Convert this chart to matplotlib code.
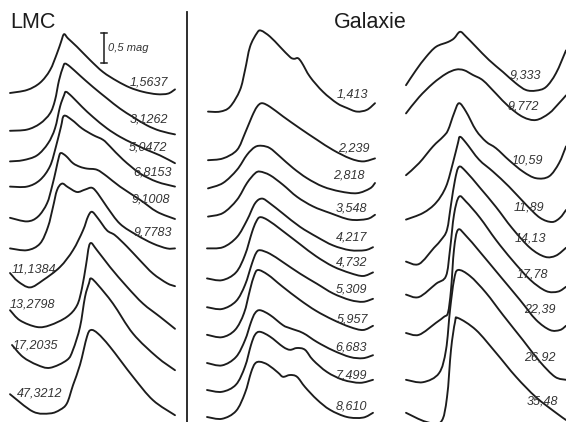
import matplotlib.pyplot as plt
from matplotlib import font_manager
from matplotlib.lines import Line2D
from matplotlib.path import Path
from matplotlib.patches import PathPatch

# light curves of Cepheids: phase and magnitude below maximum (0.5 mag bar)

lmc_periods = ['1,5637', '3,1262', '5,0472', '6,8153', '9,1008',
               '9,7783', '11,1384', '13,2798', '17,2035', '47,3212']
lmc_phase = [
    [0.00, 0.17, 0.30, 0.40, 0.47, 0.51, 0.54, 0.58, 0.67, 0.80, 0.93, 1.07, 1.20, 1.33, 1.47, 1.58, 1.65],
    [0.00, 0.17, 0.30, 0.40, 0.45, 0.49, 0.53, 0.55, 0.60, 0.70, 0.83, 0.97, 1.10, 1.23, 1.37, 1.50, 1.65],
    [0.00, 0.13, 0.27, 0.38, 0.45, 0.50, 0.54, 0.56, 0.62, 0.72, 0.83, 0.97, 1.10, 1.23, 1.37, 1.50, 1.65],
    [0.00, 0.17, 0.30, 0.40, 0.46, 0.51, 0.54, 0.62, 0.72, 0.83, 0.93, 1.00, 1.13, 1.30, 1.47, 1.65],
    [0.00, 0.17, 0.28, 0.37, 0.42, 0.46, 0.49, 0.51, 0.56, 0.63, 0.70, 0.77, 0.87, 0.97, 1.10, 1.30, 1.47, 1.65],
    [0.00, 0.17, 0.30, 0.38, 0.43, 0.47, 0.52, 0.58, 0.67, 0.75, 0.82, 0.88, 0.97, 1.10, 1.27, 1.43, 1.57, 1.65],
    [0.00, 0.08, 0.20, 0.33, 0.50, 0.63, 0.73, 0.78, 0.82, 0.88, 0.97, 1.05, 1.17, 1.30, 1.43, 1.57, 1.65],
    [0.00, 0.10, 0.27, 0.40, 0.57, 0.67, 0.72, 0.76, 0.80, 0.87, 1.00, 1.17, 1.33, 1.50, 1.65],
    [0.02, 0.13, 0.27, 0.40, 0.57, 0.63, 0.70, 0.75, 0.79, 0.81, 0.88, 1.03, 1.23, 1.47, 1.65],
    [0.00, 0.23, 0.40, 0.50, 0.57, 0.63, 0.70, 0.77, 0.81, 0.88, 1.00, 1.23, 1.43, 1.65],
]
lmc_dmag = [
    [0.98, 0.93, 0.81, 0.60, 0.32, 0.13, 0.00, 0.07, 0.21, 0.43, 0.63, 0.78, 0.89, 0.96, 1.00, 0.99, 0.92],
    [1.12, 1.10, 1.00, 0.83, 0.61, 0.28, 0.06, 0.00, 0.05, 0.20, 0.39, 0.58, 0.75, 0.89, 1.03, 1.12, 1.18],
    [1.16, 1.14, 1.06, 0.86, 0.61, 0.25, 0.06, 0.00, 0.08, 0.25, 0.42, 0.61, 0.75, 0.86, 0.97, 1.06, 1.19],
    [1.18, 1.18, 1.07, 0.84, 0.51, 0.18, 0.00, 0.07, 0.21, 0.32, 0.40, 0.51, 0.73, 0.96, 1.10, 1.18],
    [1.08, 1.14, 1.06, 0.84, 0.56, 0.28, 0.06, 0.00, 0.05, 0.17, 0.23, 0.26, 0.28, 0.39, 0.56, 0.78, 0.98, 1.10],
    [1.08, 1.11, 1.00, 0.72, 0.39, 0.11, 0.00, 0.06, 0.14, 0.10, 0.07, 0.17, 0.39, 0.67, 0.86, 1.00, 1.08, 1.08],
    [1.02, 1.16, 1.26, 1.14, 0.92, 0.64, 0.31, 0.08, 0.00, 0.11, 0.31, 0.39, 0.58, 0.81, 1.03, 1.19, 1.24],
    [1.11, 1.28, 1.39, 1.36, 1.22, 1.03, 0.74, 0.36, 0.00, 0.11, 0.39, 0.72, 1.00, 1.22, 1.42],
    [1.11, 1.31, 1.44, 1.49, 1.36, 1.19, 0.81, 0.31, 0.08, 0.00, 0.11, 0.42, 0.92, 1.31, 1.53],
    [1.07, 1.36, 1.39, 1.33, 1.22, 0.92, 0.58, 0.11, 0.00, 0.06, 0.28, 0.78, 1.17, 1.42],
]

gal_periods = ['1,413', '2,239', '2,818', '3,548', '4,217', '4,732',
               '5,309', '5,957', '6,683', '7,499', '8,610']
gal_phase = [
    [0.01, 0.13, 0.23, 0.33, 0.38, 0.43, 0.50, 0.54, 0.63, 0.73, 0.83, 0.87, 0.91, 0.95, 1.03, 1.16, 1.30, 1.40, 1.50, 1.60, 1.68],
    [0.01, 0.16, 0.30, 0.38, 0.45, 0.50, 0.55, 0.63, 0.76, 0.93, 1.10, 1.26, 1.43, 1.56, 1.68],
    [0.01, 0.16, 0.30, 0.40, 0.48, 0.55, 0.63, 0.73, 0.86, 1.00, 1.16, 1.33, 1.50, 1.63, 1.68],
    [0.01, 0.16, 0.30, 0.40, 0.48, 0.53, 0.63, 0.76, 0.90, 1.06, 1.23, 1.43, 1.60, 1.68],
    [0.00, 0.16, 0.30, 0.40, 0.48, 0.55, 0.63, 0.76, 0.93, 1.10, 1.26, 1.43, 1.58, 1.66],
    [0.00, 0.15, 0.29, 0.38, 0.45, 0.49, 0.53, 0.61, 0.75, 0.93, 1.09, 1.26, 1.43, 1.56, 1.66],
    [0.00, 0.15, 0.29, 0.38, 0.45, 0.49, 0.53, 0.63, 0.76, 0.93, 1.10, 1.26, 1.43, 1.56, 1.66],
    [0.00, 0.15, 0.28, 0.37, 0.43, 0.47, 0.51, 0.61, 0.75, 0.93, 1.09, 1.26, 1.43, 1.56, 1.66],
    [0.00, 0.15, 0.29, 0.38, 0.44, 0.48, 0.53, 0.63, 0.76, 0.83, 0.96, 1.10, 1.26, 1.43, 1.56, 1.66],
    [0.00, 0.15, 0.29, 0.38, 0.44, 0.48, 0.53, 0.63, 0.76, 0.83, 0.90, 0.98, 1.06, 1.20, 1.36, 1.53, 1.66],
    [0.00, 0.15, 0.29, 0.38, 0.44, 0.48, 0.53, 0.61, 0.71, 0.76, 0.83, 0.90, 0.98, 1.10, 1.23, 1.40, 1.56, 1.66],
]
gal_dmag = [
    [1.35, 1.35, 1.27, 0.99, 0.66, 0.27, 0.04, 0.00, 0.10, 0.27, 0.44, 0.47, 0.46, 0.54, 0.77, 1.02, 1.21, 1.29, 1.35, 1.32, 1.21],
    [0.95, 0.92, 0.78, 0.50, 0.22, 0.06, 0.00, 0.06, 0.22, 0.42, 0.61, 0.78, 0.92, 0.97, 0.92],
    [0.71, 0.62, 0.40, 0.15, 0.02, 0.00, 0.04, 0.18, 0.37, 0.54, 0.68, 0.76, 0.79, 0.71, 0.62],
    [0.75, 0.69, 0.47, 0.19, 0.03, 0.00, 0.06, 0.22, 0.42, 0.58, 0.69, 0.80, 0.79, 0.72],
    [0.83, 0.81, 0.64, 0.36, 0.08, 0.00, 0.08, 0.25, 0.47, 0.64, 0.78, 0.86, 0.86, 0.81],
    [1.02, 1.05, 0.92, 0.63, 0.25, 0.08, 0.00, 0.05, 0.22, 0.45, 0.65, 0.82, 0.93, 0.98, 0.92],
    [0.95, 0.98, 0.85, 0.58, 0.22, 0.05, 0.00, 0.06, 0.20, 0.39, 0.56, 0.72, 0.83, 0.86, 0.81],
    [1.08, 1.12, 1.00, 0.72, 0.33, 0.10, 0.00, 0.08, 0.27, 0.50, 0.68, 0.83, 0.95, 1.00, 0.93],
    [0.88, 0.92, 0.78, 0.50, 0.20, 0.05, 0.00, 0.08, 0.25, 0.30, 0.38, 0.53, 0.67, 0.78, 0.80, 0.75],
    [0.97, 1.00, 0.88, 0.58, 0.22, 0.05, 0.00, 0.08, 0.25, 0.30, 0.27, 0.30, 0.47, 0.67, 0.80, 0.85, 0.80],
    [0.92, 0.95, 0.82, 0.52, 0.18, 0.03, 0.00, 0.05, 0.18, 0.25, 0.22, 0.25, 0.42, 0.63, 0.80, 0.92, 0.93, 0.85],
]

long_periods = ['9,333', '9,772', '10,59', '11,89', '14,13',
                '17,78', '22,39', '26,92', '35,48']
long_phase = [
    [0.02, 0.12, 0.22, 0.32, 0.44, 0.50, 0.56, 0.62, 0.72, 0.85, 0.99, 1.12, 1.22, 1.32, 1.42, 1.52, 1.62],
    [0.02, 0.15, 0.29, 0.42, 0.52, 0.60, 0.69, 0.79, 0.92, 1.05, 1.19, 1.32, 1.45, 1.55, 1.62],
    [0.02, 0.15, 0.29, 0.39, 0.44, 0.50, 0.55, 0.62, 0.72, 0.82, 0.92, 1.05, 1.19, 1.32, 1.45, 1.55, 1.62],
    [0.02, 0.19, 0.32, 0.42, 0.49, 0.54, 0.56, 0.62, 0.75, 0.89, 1.05, 1.22, 1.36, 1.48, 1.56, 1.62],
    [0.02, 0.15, 0.30, 0.37, 0.43, 0.47, 0.51, 0.55, 0.62, 0.76, 0.92, 1.08, 1.26, 1.41, 1.52, 1.62],
    [0.02, 0.15, 0.32, 0.42, 0.46, 0.50, 0.55, 0.62, 0.76, 0.92, 1.08, 1.26, 1.42, 1.54, 1.62],
    [0.02, 0.15, 0.32, 0.40, 0.44, 0.47, 0.50, 0.54, 0.62, 0.76, 0.96, 1.16, 1.32, 1.46, 1.56, 1.62],
    [0.02, 0.19, 0.35, 0.42, 0.46, 0.50, 0.54, 0.66, 0.82, 0.99, 1.19, 1.36, 1.51, 1.62],
    [0.02, 0.22, 0.37, 0.43, 0.47, 0.51, 0.54, 0.72, 0.92, 1.12, 1.32, 1.52, 1.62],
]
long_dmag = [
    [0.89, 0.64, 0.42, 0.25, 0.17, 0.11, 0.00, 0.08, 0.25, 0.47, 0.67, 0.86, 0.97, 0.98, 0.92, 0.69, 0.31],
    [0.73, 0.46, 0.23, 0.07, 0.00, 0.01, 0.09, 0.18, 0.40, 0.62, 0.79, 0.84, 0.73, 0.56, 0.43],
    [1.20, 1.00, 0.72, 0.56, 0.45, 0.17, 0.00, 0.14, 0.45, 0.64, 0.75, 0.95, 1.14, 1.25, 1.22, 1.00, 0.72],
    [1.38, 1.27, 1.10, 0.83, 0.43, 0.10, 0.00, 0.10, 0.38, 0.58, 0.83, 1.13, 1.35, 1.42, 1.35, 1.22],
    [1.58, 1.62, 1.35, 1.22, 1.05, 0.63, 0.22, 0.00, 0.08, 0.35, 0.67, 1.02, 1.35, 1.50, 1.48, 1.35],
    [1.63, 1.67, 1.45, 1.32, 0.88, 0.30, 0.00, 0.08, 0.35, 0.72, 1.05, 1.38, 1.57, 1.58, 1.50],
    [1.72, 1.75, 1.55, 1.45, 1.38, 1.00, 0.33, 0.00, 0.10, 0.37, 0.77, 1.17, 1.50, 1.67, 1.67, 1.60],
    [1.83, 1.87, 1.72, 1.33, 0.67, 0.17, 0.00, 0.10, 0.38, 0.75, 1.17, 1.53, 1.78, 1.83],
    [1.58, 1.73, 1.73, 1.32, 0.53, 0.07, 0.00, 0.20, 0.58, 0.98, 1.32, 1.58, 1.70],
]

# layout: vertical stacking (level of each maximum) and label spots
lmc_top = [0.57, 1.06, 1.53, 1.93, 2.55, 3.06, 3.53, 4.06, 4.64, 5.50]
gal_top = [0.51, 1.72, 2.43, 2.86, 3.31, 3.62, 4.17, 4.50, 5.17, 5.53, 6.03]
long_top = [0.53, 1.16, 1.72, 2.28, 2.78, 3.28, 3.83, 4.50, 5.30]

lmc_lab = [(1.58, 1.37, 'right'), (1.58, 2.00, 'right'), (1.57, 2.45, 'right'),
           (1.62, 2.88, 'right'), (1.60, 3.33, 'right'), (1.62, 3.88, 'right'),
           (0.02, 4.50, 'left'), (0.00, 5.08, 'left'), (0.03, 5.75, 'left'),
           (0.07, 6.55, 'left')]
gal_lab = [(1.61, 1.57), (1.63, 2.47), (1.58, 2.92), (1.60, 3.47), (1.60, 3.95),
           (1.60, 4.38), (1.60, 4.83), (1.61, 5.33), (1.60, 5.80), (1.60, 6.25),
           (1.60, 6.78)]
long_lab = [(1.37, 1.25), (1.35, 1.78), (1.39, 2.67), (1.40, 3.45), (1.42, 3.97),
            (1.44, 4.58), (1.52, 5.15), (1.52, 5.95), (1.54, 6.70)]

W, H = 566, 422
ink = '#1c1c1c'

names = {f.name for f in font_manager.fontManager.ttflist}
lab_font = 'Liberation Sans Narrow' if 'Liberation Sans Narrow' in names else 'Liberation Sans'

fig = plt.figure(figsize=(W / 100, H / 100), dpi=100)
fig.patch.set_facecolor('white')


def smooth_path(xs, ys):
    # bezier path through the read points (catmull-rom tangents)
    pts = list(zip(xs, ys))
    n = len(pts)
    verts = [pts[0]]
    codes = [Path.MOVETO]
    for i in range(n - 1):
        p0 = pts[i - 1] if i > 0 else pts[i]
        p1, p2 = pts[i], pts[i + 1]
        p3 = pts[i + 2] if i + 2 < n else pts[i + 1]
        c1 = (p1[0] + (p2[0] - p0[0]) / 6, p1[1] + (p2[1] - p0[1]) / 6)
        c2 = (p2[0] - (p3[0] - p1[0]) / 6, p2[1] - (p3[1] - p1[1]) / 6)
        verts += [c1, c2, p2]
        codes += [Path.CURVE4] * 3
    return Path(verts, codes)


def panel(x0, phases, dmags, tops):
    ax = fig.add_axes([x0 / W, 0, 170 / W, 1])
    ax.set_xlim(0, 1.7)
    ax.set_ylim(H / 60, 0)   # magnitudes grow downward, 1 mag = 60 px
    ax.axis('off')
    for ph, dm, top in zip(phases, dmags, tops):
        mag = [top + d for d in dm]
        ax.add_patch(PathPatch(smooth_path(ph, mag), fill=False, edgecolor=ink,
                               lw=1.35, joinstyle='round', capstyle='round',
                               clip_on=False))
    return ax


ax1 = panel(10, lmc_phase, lmc_dmag, lmc_top)
for p, (x, y, ha) in zip(lmc_periods, lmc_lab):
    ax1.text(x, y, p, ha=ha, va='center', fontsize=9, style='italic',
             family=lab_font, color='#333333')

# 0,5 mag scale bar
ax1.plot([0.94, 0.94], [0.55, 1.05], color=ink, lw=1.1)
ax1.plot([0.91, 0.97], [0.55, 0.55], color=ink, lw=1.1)
ax1.plot([0.91, 0.97], [1.05, 1.05], color=ink, lw=1.1)
ax1.text(0.98, 0.80, '0,5 mag', ha='left', va='center', fontsize=8,
         style='italic', family=lab_font, color='#333333')

ax2 = panel(207, gal_phase, gal_dmag, gal_top)
for p, (x, y) in zip(gal_periods, gal_lab):
    ax2.text(x, y, p, ha='right', va='center', fontsize=9, style='italic',
             family=lab_font, color='#333333')

ax3 = panel(404, long_phase, long_dmag, long_top)
for p, (x, y) in zip(long_periods, long_lab):
    ax3.text(x, y, p, ha='right', va='center', fontsize=9, style='italic',
             family=lab_font, color='#333333')

fig.text(10 / W, 1 - 22 / H, 'LMC', ha='left', va='center', fontsize=15.5,
         family='Liberation Sans', color=ink)
fig.text(370 / W, 1 - 22 / H, 'Galaxie', ha='center', va='center', fontsize=15.5,
         family='Liberation Sans', color=ink)

fig.add_artist(Line2D([187 / W, 187 / W], [0, 1 - 12 / H], color=ink, lw=1.3))

fig.savefig('out.png', dpi=100, facecolor='white')
